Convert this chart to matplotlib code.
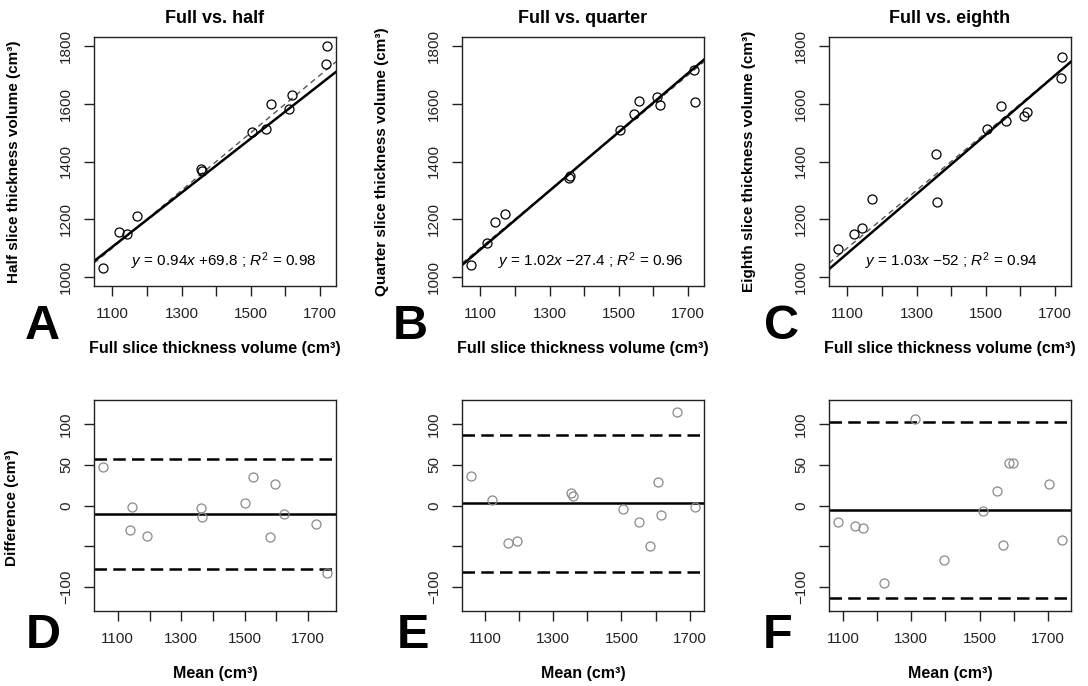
import numpy as np
import matplotlib
matplotlib.use('Agg')
import matplotlib.pyplot as plt

plt.rcParams['font.family'] = ['Liberation Sans', 'DejaVu Sans']
plt.rcParams['mathtext.fontset'] = 'custom'
plt.rcParams['mathtext.rm'] = 'Liberation Sans'
plt.rcParams['mathtext.it'] = 'Liberation Sans:italic'
plt.rcParams['mathtext.bf'] = 'Liberation Sans:bold'

# full slice thickness volumes (cm^3), one per subject
full = [1073, 1120, 1142, 1170, 1356, 1360, 1504, 1545, 1559, 1609, 1620, 1717, 1720]
# reduced slice thickness volumes
half = [1029, 1154, 1147, 1211, 1374, 1368, 1504, 1512, 1599, 1583, 1632, 1739, 1802]
quarter = [1041, 1116, 1191, 1217, 1342, 1350, 1510, 1565, 1611, 1623, 1595, 1717, 1606]
eighth = [1095, 1147, 1170, 1269, 1426, 1259, 1512, 1591, 1542, 1559, 1571, 1690, 1762]

# regression fits: slope, intercept, R^2
fit_half = (0.94, 69.8, 0.98)
fit_quarter = (1.02, -27.4, 0.96)
fit_eighth = (1.03, -52, 0.94)

# Bland-Altman: mean and difference (full - reduced)
mean_half = [1053, 1139, 1145, 1191, 1363, 1365, 1502, 1526, 1579, 1596, 1624, 1726, 1760]
diff_half = [46.7, -29.9, -2.0, -36.9, -2.9, -14.3, 2.9, 34.4, -38.5, 26.6, -10.7, -23.0, -83.2]
mean_quarter = [1059, 1121, 1168, 1195, 1351, 1358, 1506, 1553, 1585, 1608, 1617, 1662, 1716]
diff_quarter = [35.7, 7.0, -45.9, -43.4, 15.2, 11.5, -4.5, -20.5, -49.6, 28.3, -11.1, 114.3, -2.0]
mean_eighth = [1085, 1135, 1160, 1221, 1312, 1395, 1509, 1552, 1569, 1586, 1598, 1704, 1742]
diff_eighth = [-20.5, -24.6, -27.5, -94.7, 106.1, -67.2, -6.6, 18.0, -48.0, 52.0, 52.0, 26.2, -42.6]

# bias, upper and lower limits of agreement
loa_half = (-10.2, 57.4, -77.9)
loa_quarter = (2.9, 86.9, -82.0)
loa_eighth = (-5.3, 102.5, -113.9)

titles = ['Full vs. half', 'Full vs. quarter', 'Full vs. eighth']
ylabels = ['Half slice thickness volume (cm³)', 'Quarter slice thickness volume (cm³)',
           'Eighth slice thickness volume (cm³)']
letters_top = ['A', 'B', 'C']
letters_bot = ['D', 'E', 'F']

W, H = 1088, 686
fig = plt.figure(figsize=(W / 100, H / 100), dpi=100)

lefts = [94, 462, 829]
aw = 242


def style(ax):
    for s in ax.spines.values():
        s.set_linewidth(1.0)
        s.set_color('#222222')
    ax.tick_params(direction='out', length=7, width=1, labelsize=11, pad=8, colors='#222222')
    ax.tick_params(axis='x', pad=8)
    for lab in ax.get_yticklabels():
        lab.set_rotation(90)
        lab.set_va('center')


xt = [1100, 1200, 1300, 1400, 1500, 1600, 1700]
xtl = ['1100', '', '1300', '', '1500', '', '1700']

top_y = [half, quarter, eighth]
fits = [fit_half, fit_quarter, fit_eighth]
bot = [(mean_half, diff_half, loa_half, (1025, 1788)),
       (mean_quarter, diff_quarter, loa_quarter, (1033, 1742)),
       (mean_eighth, diff_eighth, loa_eighth, (1059, 1768))]
eq_x = [0.537, 0.533, 0.505]
letter_x = [42, 410, 781]
letter_xb = [43, 413, 778]

for i in range(3):
    # scatter with regression and identity line
    ax = fig.add_axes([lefts[i] / W, 1 - 286 / H, aw / W, 249 / H])
    xlim = (1047, 1746)
    ax.set_xlim(xlim)
    ax.set_ylim(968, 1832)
    xx = np.array(xlim)
    m, b, r2 = fits[i]
    ax.plot(xx, xx, color='#555555', lw=1.0, ls=(0, (4, 3)))
    ax.plot(xx, m * xx + b, color='black', lw=1.8)
    ax.plot(full, top_y[i], 'o', mfc='none', mec='black', ms=6.5, mew=0.9)
    ax.set_xticks(xt)
    ax.set_xticklabels(xtl)
    ax.set_yticks([1000, 1200, 1400, 1600, 1800])
    style(ax)
    ax.set_title(titles[i], fontsize=13, fontweight='bold', pad=10)
    ax.set_ylabel(ylabels[i], fontsize=11, fontweight='bold')
    ax.yaxis.set_label_coords(-0.30, 0.5)
    ax.text(0.5, -0.253, 'Full slice thickness volume (cm³)', transform=ax.transAxes,
            ha='center', va='center', fontsize=11.5, fontweight='bold')
    sign = '+' if b >= 0 else '\u2212'
    eq = r'$y$ = %.2f$x$ %s%g ; $R^2$ = %.2f' % (m, sign, abs(b), r2)
    ax.text(eq_x[i], 0.10, eq, transform=ax.transAxes, ha='center', va='center', fontsize=11)
    fig.text(letter_x[i] / W, 1 - 326 / H, letters_top[i], fontsize=35, fontweight='bold',
             ha='center', va='center')

    # Bland-Altman plot
    mn, df, loa, bx = bot[i]
    ax2 = fig.add_axes([lefts[i] / W, 1 - 611 / H, aw / W, 211 / H])
    ax2.set_xlim(bx)
    ax2.set_ylim(-129.6, 129.6)
    ax2.axhline(loa[0], color='black', lw=1.8)
    ax2.axhline(loa[1], color='black', lw=1.8, ls=(0, (5, 2.5)))
    ax2.axhline(loa[2], color='black', lw=1.8, ls=(0, (5, 2.5)))
    ax2.plot(mn, df, 'o', mfc='none', mec='#8a8a8a', ms=6.5, mew=0.9)
    ax2.set_xticks(xt)
    ax2.set_xticklabels(xtl)
    ax2.set_yticks([-100, -50, 0, 50, 100])
    ax2.set_yticklabels(['\u2212100', '', '0', '50', '100'])
    style(ax2)
    if i == 0:
        ax2.set_ylabel('Difference (cm³)', fontsize=11, fontweight='bold')
        ax2.yaxis.set_label_coords(-0.31, 0.49)
    ax2.text(0.5, -0.294, 'Mean (cm³)', transform=ax2.transAxes,
             ha='center', va='center', fontsize=11.5, fontweight='bold')
    fig.text(letter_xb[i] / W, 1 - 635 / H, letters_bot[i], fontsize=35, fontweight='bold',
             ha='center', va='center')

fig.savefig('out.png', dpi=100)
